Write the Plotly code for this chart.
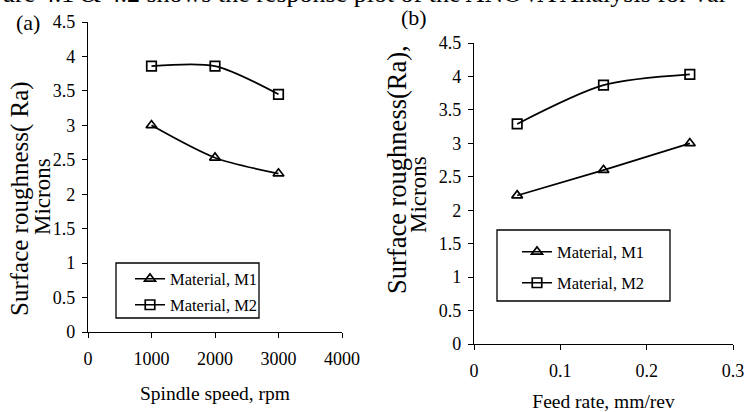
import plotly.graph_objects as go

W, H = 744, 412

# Panel (a): spindle speed
speed = [1000, 2000, 3000]
a_m1 = [3.0, 2.53, 2.3]
a_m2 = [3.86, 3.86, 3.45]

# Panel (b): feed rate
feed = [0.05, 0.15, 0.25]
b_m1 = [2.22, 2.6, 3.0]
b_m2 = [3.29, 3.87, 4.03]

series_names = ["Material, M1", "Material, M2"]
y_ticks = [0, 0.5, 1, 1.5, 2, 2.5, 3, 3.5, 4, 4.5]
a_xticks = [0, 1000, 2000, 3000, 4000]
b_xticks = [0, 0.1, 0.2, 0.3]

FONT = "Liberation Serif, serif"


def px_x(p):
    return p / W


def px_y(p):
    return 1 - p / H


fig = go.Figure()
line = dict(color="black", width=1.7, shape="spline", smoothing=0.8)
symbols = ["triangle-up-open", "square-open"]
panels = [(speed, [a_m1, a_m2], "x", "y", ["legend", "legend2"]),
          (feed, [b_m1, b_m2], "x2", "y2", ["legend3", "legend4"])]
for xs, ys_list, xa, ya, legs in panels:
    for i, ys in enumerate(ys_list):
        fig.add_trace(go.Scatter(
            x=xs, y=ys, mode="lines+markers", name=series_names[i],
            line=line, showlegend=True,
            marker=dict(symbol=symbols[i], size=9.5, color="black", line=dict(width=1.7, color="black")),
            xaxis=xa, yaxis=ya, legend=legs[i]))

axis_common = dict(showgrid=False, zeroline=False, showline=True, linecolor="black", linewidth=1.3,
                   ticks="outside", ticklen=5, tickcolor="black", tickwidth=1.3, automargin=False,
                   ticklabeloverflow="allow",
                   tickfont=dict(family=FONT, size=18, color="black"))


def leg(xp, yp):
    return dict(x=px_x(xp), y=px_y(yp), xanchor="left", yanchor="middle", borderwidth=0,
                bgcolor="rgba(0,0,0,0)", font=dict(family=FONT, size=16.5, color="black"),
                itemwidth=30, visible=True)


def ann(text, xp, yp, size, angle=0):
    return dict(text=text, x=px_x(xp), y=px_y(yp), xref="paper", yref="paper", showarrow=False,
                xanchor="center", yanchor="middle", textangle=angle,
                font=dict(family=FONT, size=size, color="black"))


fig.update_layout(
    template="none",
    showlegend=True,
    width=W, height=H, margin=dict(l=0, r=0, t=0, b=0, pad=0),
    paper_bgcolor="white", plot_bgcolor="white",
    font=dict(family=FONT, color="black"),
    xaxis=dict(**axis_common, domain=[px_x(88), px_x(342)], range=[0, 4000], tickvals=a_xticks,
               ticklabelstandoff=5, anchor="y",
               title=dict(text="Spindle speed, rpm", font=dict(size=19.5, family=FONT), standoff=18)),
    yaxis=dict(**axis_common, domain=[px_y(332), px_y(22)], range=[0, 4.5], tickvals=y_ticks,
               ticklabelstandoff=3, anchor="x"),
    xaxis2=dict(**axis_common, domain=[px_x(474), px_x(733)], range=[0, 0.3], tickvals=b_xticks,
                ticklabelstandoff=5, anchor="y2",
                title=dict(text="Feed rate, mm/rev", font=dict(size=19.5, family=FONT), standoff=17)),
    yaxis2=dict(**axis_common, domain=[px_y(344), px_y(43)], range=[0, 4.5], tickvals=y_ticks,
                ticklabelstandoff=3, anchor="x2"),
    legend=leg(130, 279),
    legend2=leg(130, 305),
    legend3=leg(517, 252),
    legend4=leg(517, 283),
    shapes=[
        dict(type="rect", xref="paper", yref="paper", x0=px_x(116), x1=px_x(259), y0=px_y(318), y1=px_y(263),
             line=dict(color="black", width=1.3), fillcolor="rgba(0,0,0,0)"),
        dict(type="rect", xref="paper", yref="paper", x0=px_x(497), x1=px_x(670), y0=px_y(301), y1=px_y(230),
             line=dict(color="black", width=1.3), fillcolor="rgba(0,0,0,0)"),
    ],
    annotations=[
        ann("(a)", 28, 23, 22),
        ann("(b)", 414, 18, 22),
        ann("Surface roughness( Ra)", 20, 199, 25, -90),
        ann("Microns", 42, 197, 23, -90),
        ann("Surface roughness(Ra),", 397, 170, 26.5, -90),
        ann("Microns", 418, 194, 23, -90),
        dict(text="ure 4.1 &amp; 4.2 shows the response plot of the ANOVA Analysis for var", x=0, y=1,
             xref="paper", yref="paper", xanchor="left", yanchor="middle", yshift=7, showarrow=False,
             font=dict(family=FONT, size=26, color="black")),
    ],
)

fig.write_html("out.html", config={"displayModeBar": False},
               post_script="document.body.style.margin='0';document.body.style.padding='0';")
